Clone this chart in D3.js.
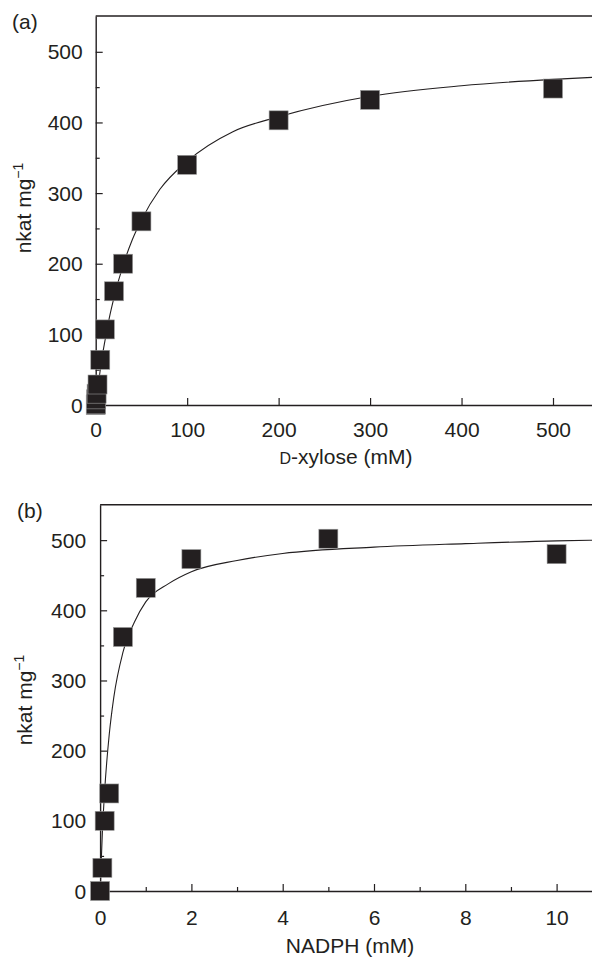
<!DOCTYPE html>
<html>
<head>
<meta charset="utf-8">
<script src="https://cdn.jsdelivr.net/npm/d3@7"></script>
<style>
body { margin: 0; background: #fff; }
text { font-family: "Liberation Sans", Arial, sans-serif; fill: #231f20; }
</style>
</head>
<body>
<script>
var width = 592,
    height = 957,
    fs = 21,
    ink = "#231f20";

// (a) D-xylose
var xyloseConc = [0, 0.25, 0.5, 1, 2, 5, 10, 20, 30, 50, 100, 200, 300, 500];
var xyloseRate = [0, 1, 8, 16, 29, 64, 107, 161, 200, 260, 340, 403, 432, 448];
var xyloseFitConc = [0, 2, 4, 7, 10, 15, 20, 30, 40, 50, 70, 100, 150, 200, 300, 400, 500, 545];
var xyloseFitRate = [0, 19, 40, 68, 90, 124, 152, 198, 234, 262, 305, 345, 387, 408, 437, 452, 461, 464];
var xyloseTicks = [0, 100, 200, 300, 400, 500];

// (b) NADPH
var nadphConc = [0, 0.05, 0.1, 0.2, 0.5, 1, 2, 5, 10];
var nadphRate = [0, 33, 100, 139, 362, 432, 473, 502, 480];
var nadphFitConc = [0, 0.05, 0.1, 0.2, 0.3, 0.5, 0.75, 1, 1.5, 2, 3, 4, 6, 8, 10, 11];
var nadphFitRate = [0, 84, 143, 223, 276, 340, 383, 412, 438, 455, 471, 481, 490, 495, 499, 500];
var nadphTicks = [0, 2, 4, 6, 8, 10];
var nadphMinor = [1, 3, 5, 7, 9];

var rateTicks = [0, 100, 200, 300, 400, 500];
var rateMinor = [50, 150, 250, 350, 450];

var svg = d3.select("body").append("svg")
    .attr("width", width)
    .attr("height", height);

function panel(p) {
  var x = d3.scaleLinear().domain(p.xDomain).range([p.left, width]);
  var y = d3.scaleLinear().domain([0, p.yMax]).range([p.bottom, p.top]);
  var g = svg.append("g");

  g.append("clipPath").attr("id", "clip" + p.id)
    .append("rect")
    .attr("x", p.left).attr("y", p.top)
    .attr("width", width - p.left).attr("height", p.bottom - p.top);

  // fitted curve
  var fit = p.fitX.map(function(d, i) { return [d, p.fitY[i]]; });
  g.append("path")
    .datum(fit)
    .attr("clip-path", "url(#clip" + p.id + ")")
    .attr("fill", "none")
    .attr("stroke", ink)
    .attr("stroke-width", 1.1)
    .attr("d", d3.line()
      .x(function(d) { return x(d[0]); })
      .y(function(d) { return y(d[1]); })
      .curve(d3.curveMonotoneX));

  // axes, ticks pointing inward
  g.append("g")
    .attr("transform", "translate(0," + p.bottom + ")")
    .call(d3.axisBottom(x).tickValues(p.xTicks).tickSize(-7).tickSizeOuter(0)
      .tickPadding(p.xPad).tickFormat(d3.format("d")));
  if (p.xMinor) {
    g.append("g")
      .attr("transform", "translate(0," + p.bottom + ")")
      .call(d3.axisBottom(x).tickValues(p.xMinor).tickSize(-4).tickFormat(""))
      .select(".domain").remove();
  }
  var ya = g.append("g")
    .attr("transform", "translate(" + p.left + ",0)")
    .call(d3.axisLeft(y).tickValues(rateTicks).tickSize(-7).tickSizeOuter(0)
      .tickPadding(p.yPad).tickFormat(d3.format("d")));
  g.append("g")
    .attr("transform", "translate(" + p.left + ",0)")
    .call(d3.axisLeft(y).tickValues(rateMinor).tickSize(-4).tickFormat(""))
    .select(".domain").remove();

  g.selectAll(".domain").attr("stroke", ink).attr("stroke-width", 1.4);
  g.selectAll(".tick line").attr("stroke", ink).attr("stroke-width", 1.2);
  g.selectAll(".tick text").attr("font-size", fs).attr("font-family", null).attr("fill", ink);
  ya.selectAll(".tick text").attr("dy", "0.34em");

  g.append("line")
    .attr("x1", p.left).attr("x2", width)
    .attr("y1", p.top).attr("y2", p.top)
    .attr("stroke", ink).attr("stroke-width", 1.4);

  // data points
  g.selectAll("rect.pt")
    .data(p.ptX)
    .enter().append("rect")
    .attr("class", "pt")
    .attr("x", function(d) { return x(d) - 9.5; })
    .attr("y", function(d, i) { return y(p.ptY[i]) - 9.5; })
    .attr("width", 19)
    .attr("height", 19)
    .attr("fill", ink)
    .attr("stroke", "#9a9a9a")
    .attr("stroke-width", 0.6);

  var xl = g.append("text")
    .attr("x", p.xLabelX).attr("y", p.xLabelY)
    .attr("text-anchor", "middle")
    .attr("font-size", fs);
  p.xLabel(xl);

  var yl = g.append("text")
    .attr("transform", "translate(" + p.yLabelX + "," + p.yLabelY + ") rotate(-90)")
    .attr("text-anchor", "middle")
    .attr("font-size", fs);
  yl.append("tspan").text("nkat mg");
  yl.append("tspan").attr("font-size", 14).attr("dy", -8).text("\u22121");

  g.append("text")
    .attr("x", p.tagX).attr("y", p.tagY)
    .attr("font-size", fs)
    .text(p.tag);
}

panel({
  id: "a", tag: "(a)", tagX: 12, tagY: 29,
  left: 95.7, top: 16, bottom: 405,
  xDomain: [0, (592 - 95.7) / 0.9146], yMax: 550.7,
  xTicks: xyloseTicks, xMinor: null, xPad: 17, yPad: 13,
  fitX: xyloseFitConc, fitY: xyloseFitRate,
  ptX: xyloseConc, ptY: xyloseRate,
  xLabelX: 346, xLabelY: 464,
  xLabel: function(t) {
    t.append("tspan").attr("font-size", 16).text("D");
    t.append("tspan").text("-xylose (mM)");
  },
  yLabelX: 31, yLabelY: 208
});

panel({
  id: "b", tag: "(b)", tagX: 17, tagY: 518,
  left: 100.1, top: 504.7, bottom: 891,
  xDomain: [0, (592 - 100.1) / 45.65], yMax: 550.5,
  xTicks: nadphTicks, xMinor: nadphMinor, xPad: 19, yPad: 14,
  fitX: nadphFitConc, fitY: nadphFitRate,
  ptX: nadphConc, ptY: nadphRate,
  xLabelX: 350, xLabelY: 953,
  xLabel: function(t) { t.text("NADPH (mM)"); },
  yLabelX: 32, yLabelY: 700
});
</script>
</body>
</html>
